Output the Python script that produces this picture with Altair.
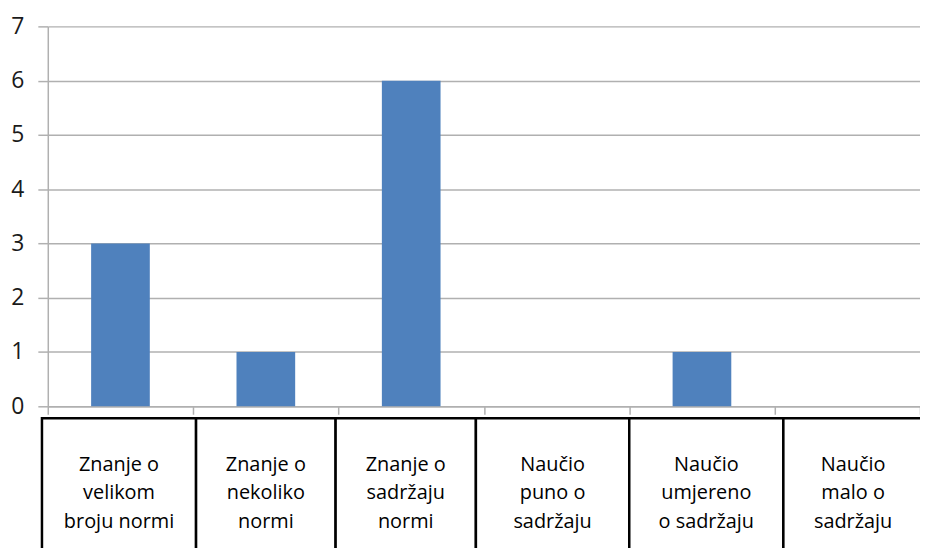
import altair as alt
import pandas as pd

labels = [
    "Znanje o\nvelikom\nbroju normi",
    "Znanje o\nnekoliko\nnormi",
    "Znanje o\nsadržaju\nnormi",
    "Naučio\npuno o\nsadržaju",
    "Naučio\numjereno\no sadržaju",
    "Naučio\nmalo o\nsadržaju",
]
values = [3, 1, 6, 0, 1, 0]
# cell boundaries of the label table, in category units
box_edges = [-0.04, 1.02, 1.98, 2.945, 4.0, 5.06, 6.02]

df = pd.DataFrame({
    "idx": list(range(len(labels))),
    "label": labels,
    "value": values,
})
df["center"] = df["idx"] + 0.5
df["b0"] = box_edges[:-1]
df["b1"] = box_edges[1:]
df["bc"] = (df["b0"] + df["b1"]) / 2

W, H = 877, 382
FONT = "Open Sans"

xscale = alt.Scale(domain=[0, 6], nice=False, zero=False, padding=0)
yscale = alt.Scale(domain=[0, 7], nice=False, padding=0)

base = alt.Chart(df)

bars = base.mark_bar(color="#4F81BD", width=59).encode(
    x=alt.X("center:Q", scale=xscale,
            axis=alt.Axis(values=[0, 1, 2, 3, 4, 5, 6], labels=False, grid=False,
                          domainColor="#b0b0b0", tickColor="#b0b0b0",
                          domainWidth=1.5, tickWidth=1.5, tickSize=8, title=None)),
    y=alt.Y("value:Q", scale=yscale,
            axis=alt.Axis(values=[0, 1, 2, 3, 4, 5, 6, 7], grid=True,
                          gridColor="#b0b0b0", gridWidth=1.5,
                          domainColor="#b0b0b0", tickColor="#b0b0b0",
                          domainWidth=1.5, tickWidth=1.5, tickSize=10,
                          labelFontSize=23, labelFont=FONT, labelColor="#1a1a1a",
                          labelPadding=14, title=None)),
)

boxes = base.mark_rect(fill="white", stroke="black", strokeWidth=2.5).encode(
    x=alt.X("b0:Q", scale=xscale),
    x2="b1:Q",
    y=alt.value(394),
    y2=alt.value(560),
)

texts = base.mark_text(font=FONT, fontSize=20, color="#000000", lineBreak="\n",
                       lineHeight=28.5, baseline="middle", align="center").encode(
    x=alt.X("bc:Q", scale=xscale),
    y=alt.value(441),
    text="label:N",
)

chart = alt.layer(boxes, bars, texts).properties(
    width=W, height=H,
    autosize=alt.AutoSizeParams(type="none"),
    padding={"left": 40, "top": 17, "right": 0, "bottom": 141},
).configure_view(stroke=None)

chart.save("out.html", embed_options={"renderer": "svg", "actions": False})
